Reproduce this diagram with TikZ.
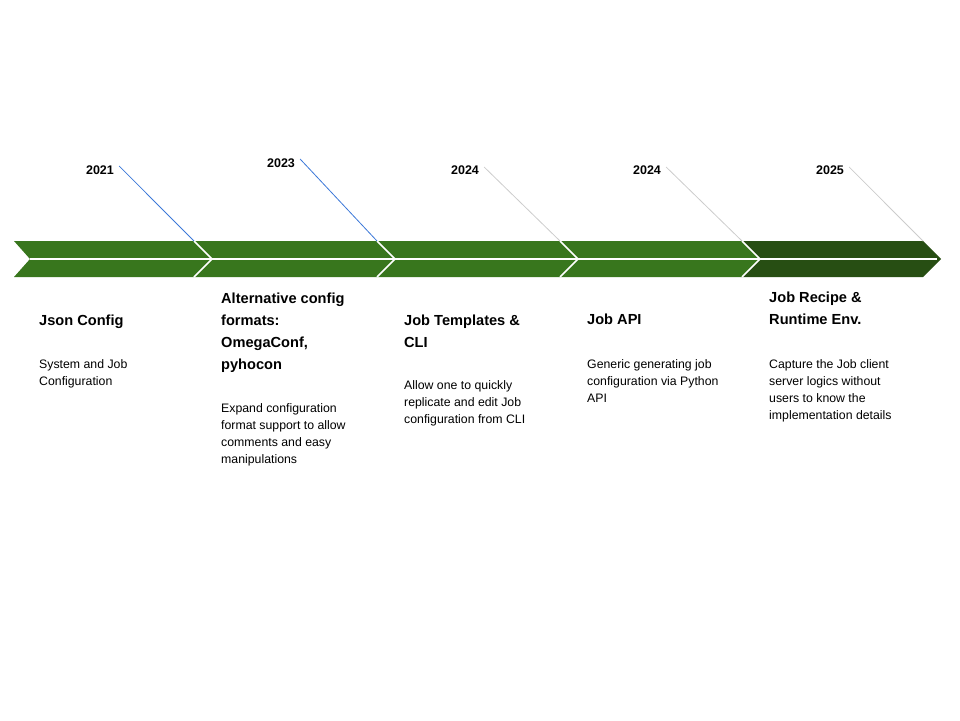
\documentclass[tikz,border=0pt]{standalone}
\usepackage{fontspec}
\setmainfont{Liberation Sans}
\usepackage{tikz}
\usetikzlibrary{calc,positioning}

\definecolor{leafgreen}{HTML}{38761D}
\definecolor{darkleaf}{HTML}{274E13}
\definecolor{leaderblue}{HTML}{3C78D8}
\definecolor{leadergray}{HTML}{CCCCCC}

\begin{document}
\begin{tikzpicture}[
    x=1pt, y=-1pt,
    seg/.style={fill=leafgreen},
    lastseg/.style={fill=darkleaf},
    sep/.style={white, line width=1.6pt, line join=miter},
    year/.style={font=\fontsize{12.5}{14}\selectfont\bfseries, inner sep=1pt},
    title/.style={font=\fontsize{14.6}{22}\selectfont\bfseries, align=left,
                  anchor=north west, inner sep=0pt},
    descr/.style={font=\fontsize{12.3}{17}\selectfont, align=left,
                  anchor=north west, inner sep=0pt},
    lead/.style={line width=0.8pt, leaderblue},
    leadgray/.style={line width=0.8pt, leadergray},
]
\useasboundingbox (0,0) rectangle (960,720);

% --- top corners of the chevron band ---
\coordinate (k0) at (14,241);
\coordinate (k1) at (194,241);
\coordinate (k2) at (377,241);
\coordinate (k3) at (560,241);
\coordinate (k4) at (742,241);
\coordinate (k5) at (923,241);

% --- chevron segments ---
\fill[seg] (k0) -- (k1) -- ($(k1)+(18,18)$) -- ($(k1)+(0,36)$)
           -- ($(k0)+(0,36)$) -- ($(k0)+(16,18)$) -- cycle;
\fill[seg] (k1) -- (k2) -- ($(k2)+(18,18)$) -- ($(k2)+(0,36)$)
           -- ($(k1)+(0,36)$) -- ($(k1)+(18,18)$) -- cycle;
\fill[seg] (k2) -- (k3) -- ($(k3)+(18,18)$) -- ($(k3)+(0,36)$)
           -- ($(k2)+(0,36)$) -- ($(k2)+(18,18)$) -- cycle;
\fill[seg] (k3) -- (k4) -- ($(k4)+(18,18)$) -- ($(k4)+(0,36)$)
           -- ($(k3)+(0,36)$) -- ($(k3)+(18,18)$) -- cycle;
\fill[lastseg] (k4) -- (k5) -- ($(k5)+(18,18)$) -- ($(k5)+(0,36)$)
           -- ($(k4)+(0,36)$) -- ($(k4)+(18,18)$) -- cycle;

% white separators and the rule through the middle of the band
\draw[sep] (k1) -- ($(k1)+(18,18)$) -- ($(k1)+(0,36)$);
\draw[sep] (k2) -- ($(k2)+(18,18)$) -- ($(k2)+(0,36)$);
\draw[sep] (k3) -- ($(k3)+(18,18)$) -- ($(k3)+(0,36)$);
\draw[sep] (k4) -- ($(k4)+(18,18)$) -- ($(k4)+(0,36)$);
\draw[sep] ($(k0)+(16,18)$) -- ($(k5)+(14,18)$);

% --- years and their leader lines ---
\node[year] (y1) at (100,170) {2021};
\node[year] (y2) at (281,163) {2023};
\node[year] (y3) at (465,170) {2024};
\node[year] (y4) at (647,170) {2024};
\node[year] (y5) at (830,170) {2025};

\draw[lead]     ($(y1.east)+(4,-4)$) -- (k1);
\draw[lead]     ($(y2.east)+(4,-4)$) -- (k2);
\draw[leadgray] ($(y3.east)+(4,-3)$) -- (k3);
\draw[leadgray] ($(y4.east)+(4,-3)$) -- (k4);
\draw[leadgray] ($(y5.east)+(4,-3)$) -- (k5);

% --- milestone titles ---
\node[title] (t1) at (39,315) {Json Config};
\node[title] (t2) at (221,293) {Alternative config\\formats:\\OmegaConf,\\pyhocon};
\node[title] (t3) at (404,315) {Job Templates \&\\CLI};
\node[title] (t4) at (587,314) {Job API};
\node[title] (t5) at (769,292) {Job Recipe \&\\Runtime Env.};

% --- descriptions ---
\node[descr] (d1) at (39,359) {System and Job\\Configuration};
\node[descr] (d2) at (221,403) {Expand configuration\\format support to allow\\comments and easy\\manipulations};
\node[descr] (d3) at (404,380) {Allow one to quickly\\replicate and edit Job\\configuration from CLI};
\node[descr] (d4) at (587,359) {Generic generating job\\configuration via Python\\API};
\node[descr] (d5) at (769,359) {Capture the Job client\\server logics without\\users to know the\\implementation details};

\end{tikzpicture}
\end{document}
